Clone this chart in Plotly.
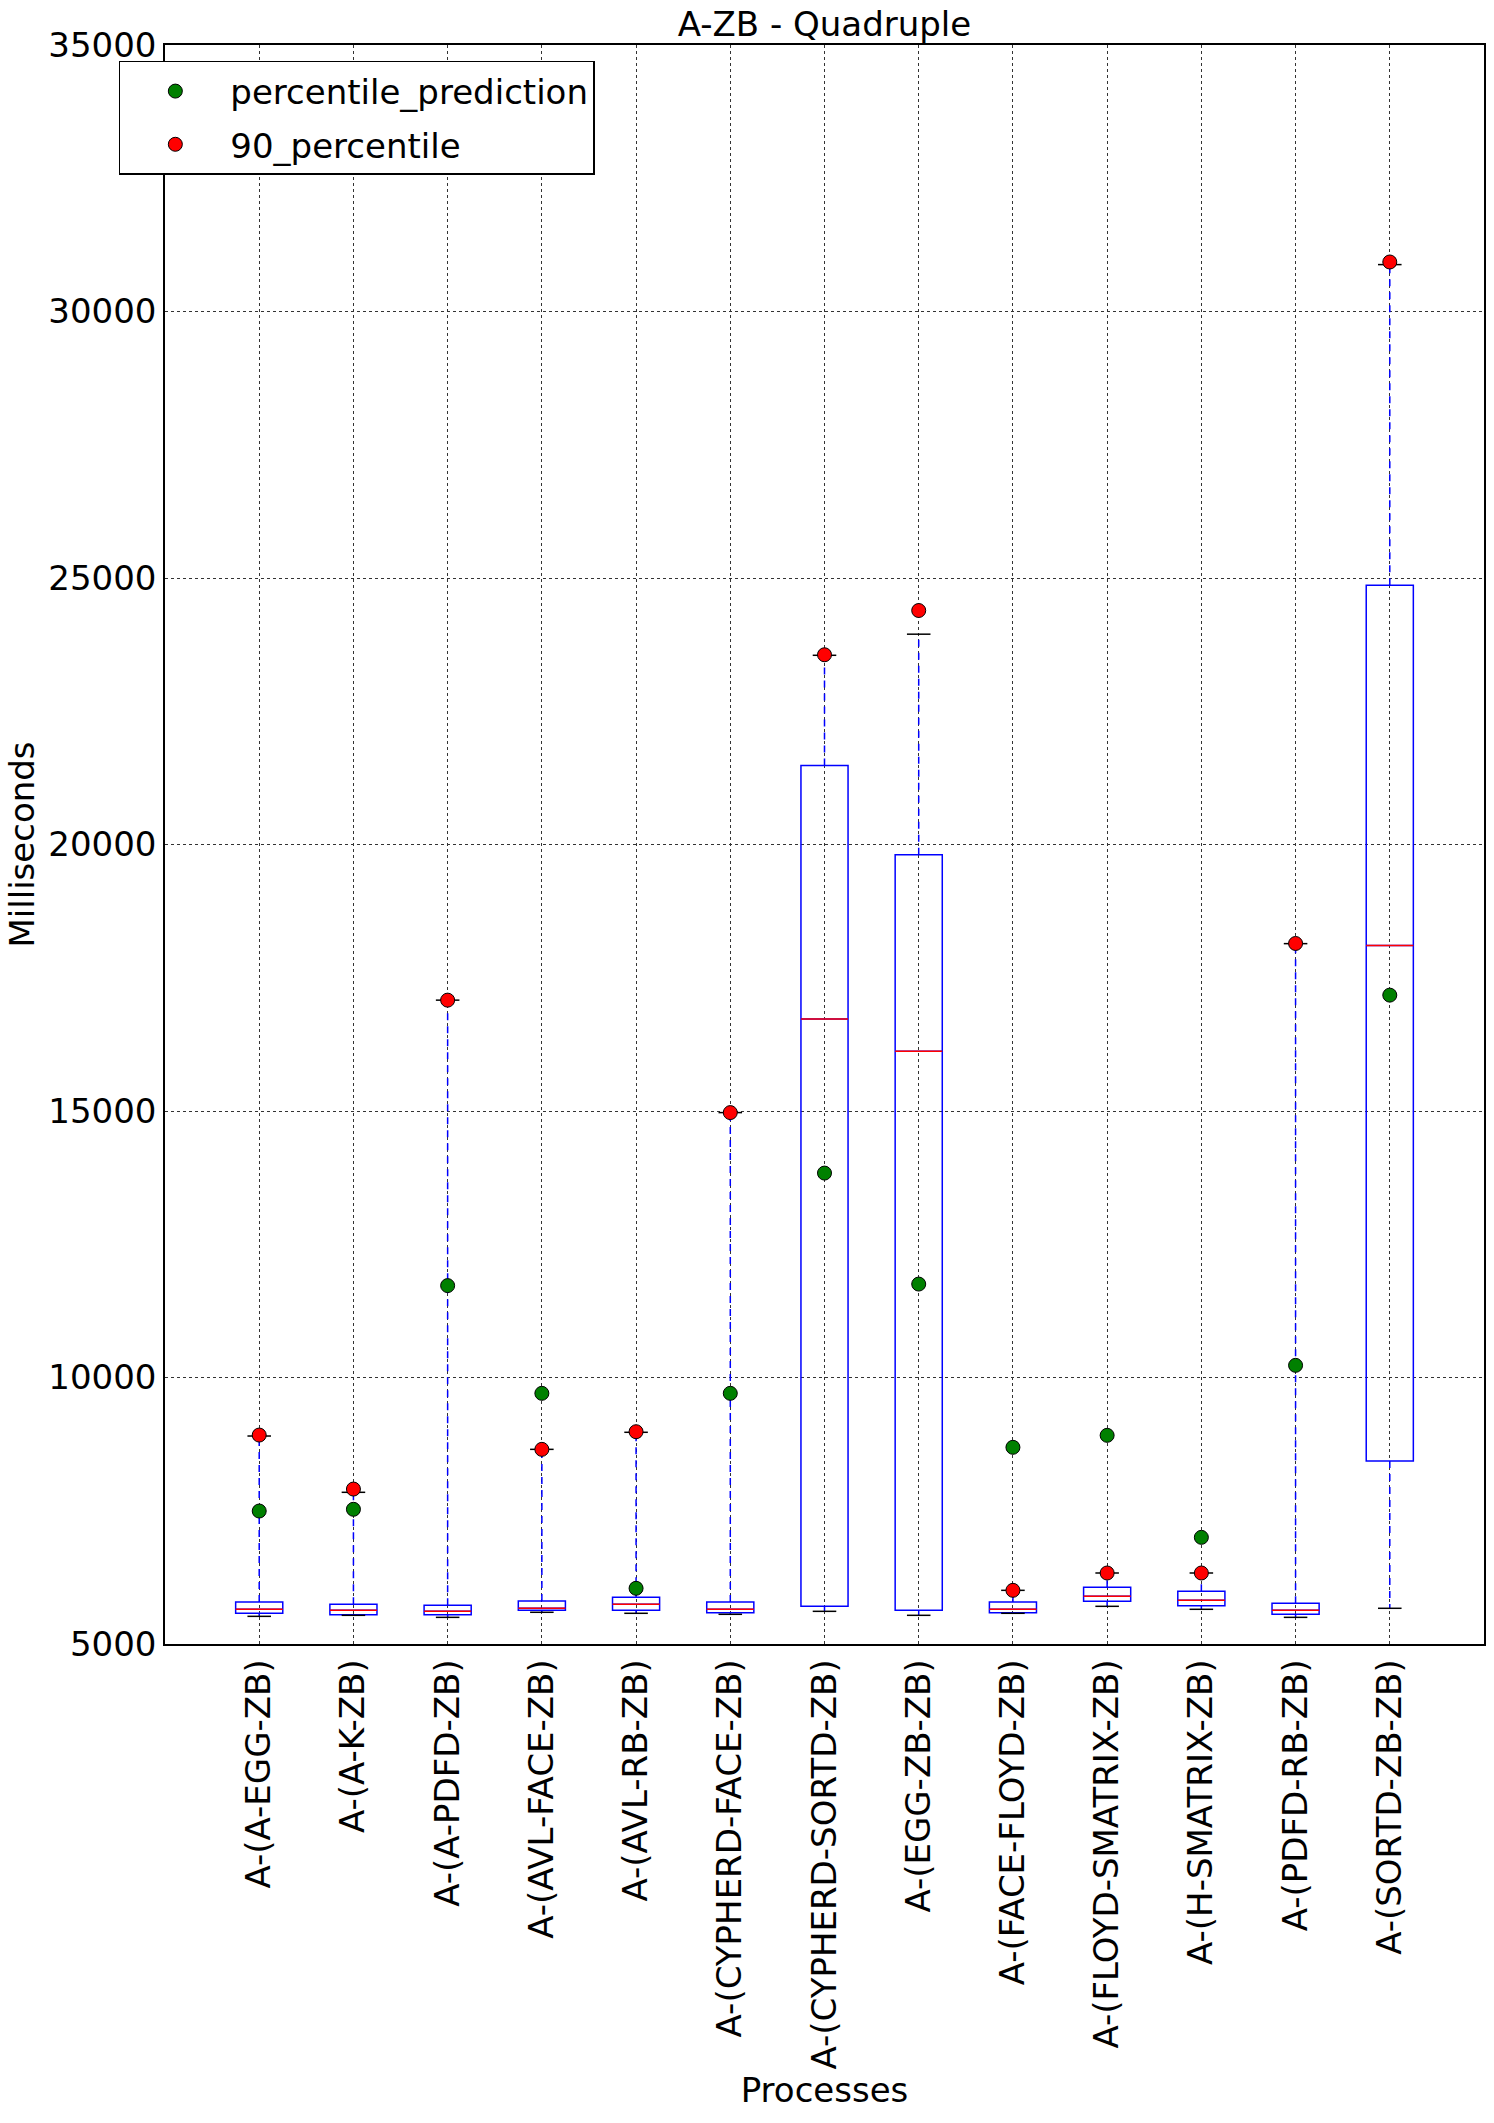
import plotly.graph_objects as go

labels = ["A-(A-EGG-ZB)", "A-(A-K-ZB)", "A-(A-PDFD-ZB)", "A-(AVL-FACE-ZB)",
          "A-(AVL-RB-ZB)", "A-(CYPHERD-FACE-ZB)", "A-(CYPHERD-SORTD-ZB)",
          "A-(EGG-ZB-ZB)", "A-(FACE-FLOYD-ZB)", "A-(FLOYD-SMATRIX-ZB)",
          "A-(H-SMATRIX-ZB)", "A-(PDFD-RB-ZB)", "A-(SORTD-ZB-ZB)"]
positions = list(range(1, len(labels) + 1))

q1 = [5576, 5550, 5550, 5632, 5632, 5588, 5707, 5632, 5588, 5801, 5719, 5557, 8433]
median = [5651, 5632, 5613, 5670, 5744, 5651, 16725, 16120, 5651, 5895, 5820, 5632, 18107]
q3 = [5788, 5744, 5726, 5807, 5876, 5788, 21480, 19810, 5788, 6063, 5989, 5763, 24863]
whisker_low = [5519, 5538, 5500, 5595, 5576, 5557, 5613, 5538, 5576, 5707, 5651, 5500, 5670]
whisker_high = [8902, 7846, 17080, 8652, 8972, 14970, 23550, 23946, 6007, 6332, 6332, 18140, 30880]

percentile_90 = [8920, 7907, 17080, 8652, 8983, 14970, 23560, 24390, 6007, 6332, 6332, 18143, 30929]
percentile_prediction = [7495, 7527, 11724, 9703, 6045, 9703, 13835, 11753, 8690, 8915, 7001, 10228, 17174]

y_ticks = [5000, 10000, 15000, 20000, 25000, 30000, 35000]
y_tick_text = ["5000", "10000", "15000", "20000", "25000", "30000", "35000"]

BOX_W = 0.5
CAP_W = 0.25
FONT = dict(family="DejaVu Sans", size=34, color="black")

fig = go.Figure()

# whiskers (dashed blue)
wx, wy = [], []
for p, a, b, lo, hi in zip(positions, q1, q3, whisker_low, whisker_high):
    wx += [p, p, None, p, p, None]
    wy += [b, hi, None, a, lo, None]
fig.add_trace(go.Scatter(x=wx, y=wy, mode="lines", showlegend=False, hoverinfo="skip",
                         line=dict(color="blue", width=1.5, dash="7px,6px")))

# boxes
fig.add_trace(go.Box(x=positions, q1=q1, median=median, q3=q3,
                     lowerfence=q1, upperfence=q3, width=BOX_W, whiskerwidth=0,
                     line=dict(color="blue", width=1.5), fillcolor="rgba(0,0,0,0)",
                     showlegend=False, boxpoints=False))

# caps (black)
cx, cy = [], []
for p, lo, hi in zip(positions, whisker_low, whisker_high):
    cx += [p - CAP_W / 2, p + CAP_W / 2, None, p - CAP_W / 2, p + CAP_W / 2, None]
    cy += [hi, hi, None, lo, lo, None]
fig.add_trace(go.Scatter(x=cx, y=cy, mode="lines", showlegend=False, hoverinfo="skip",
                         line=dict(color="black", width=1.5)))

# medians (red)
mx, my = [], []
for p, m in zip(positions, median):
    mx += [p - BOX_W / 2, p + BOX_W / 2, None]
    my += [m, m, None]
fig.add_trace(go.Scatter(x=mx, y=my, mode="lines", showlegend=False, hoverinfo="skip",
                         line=dict(color="red", width=1.5)))

fig.add_trace(go.Scatter(x=positions, y=percentile_prediction, mode="markers",
                         name="percentile_prediction", legendgroup="a",
                         marker=dict(color="green", size=14, line=dict(color="black", width=1))))
fig.add_trace(go.Scatter(x=positions, y=percentile_90, mode="markers",
                         name="90_percentile", legendgroup="b",
                         marker=dict(color="red", size=14, line=dict(color="black", width=1))))

fig.update_layout(
    width=1494, height=2123,
    margin=dict(l=165, r=8, t=45, b=479),
    paper_bgcolor="white", plot_bgcolor="white",
    font=FONT,
    title=dict(text="A-ZB - Quadruple", xref="paper", x=0.5, xanchor="center",
               y=0.9887, yanchor="middle", font=FONT),
    legend=dict(x=-0.035, y=0.99, xanchor="left", yanchor="top",
                bordercolor="black", borderwidth=1.5, bgcolor="white",
                font=FONT, itemsizing="trace", itemwidth=100, tracegroupgap=6),
    showlegend=True,
)
fig.update_xaxes(range=[0, 14], tickmode="array", tickvals=positions, ticktext=labels,
                 tickangle=-90, showgrid=True, gridcolor="#333", griddash="dot", gridwidth=1,
                 showline=True, mirror=True, linecolor="black", linewidth=1.5,
                 ticks="", zeroline=False,
                 title=dict(text="Processes", font=FONT, standoff=10))
fig.update_yaxes(range=[5000, 35000], tickmode="array",
                 tickvals=y_ticks, ticktext=y_tick_text,
                 showgrid=True, gridcolor="#333", griddash="dot", gridwidth=1,
                 showline=True, mirror=True, linecolor="black", linewidth=1.5,
                 ticks="", zeroline=False,
                 title=dict(text="Milliseconds", font=FONT, standoff=3))

fig.write_html("out.html")
